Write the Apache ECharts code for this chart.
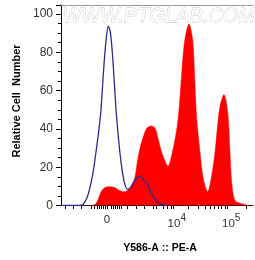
<!DOCTYPE html>
<html>
<head>
<meta charset="utf-8">
<script src="https://cdn.jsdelivr.net/npm/echarts@6/dist/echarts.min.js"></script>
<style>html,body{margin:0;padding:0;background:#fff}#c{width:255px;height:260px}</style>
</head>
<body>
<div id="c"></div>
<script>
// x values are display positions on the biexponential PE-A scale (0..192)
const stainedX = [0,29,34,37,40,44,49,54,58,63,67,71,74,77,80,83,86,90,94,97,100,103,107,111,115.5,118,120,122.5,125,128,131,132.5,134,135.7,139,142.3,146.7,150.7,154,157.3,159.5,163,165,167.3,169,170.7,174,180.7,186,192];
const stainedY = [0,0,0.5,3,7,9.4,9.8,9.3,8,7.2,8,11,15,25,32,37,40.5,41.5,40.5,35,29,24.5,20.5,27,39,50,64,81,90,94.8,89,81,63,45.4,28,14,7.3,15.7,28,45.4,53,58,55,45.4,28,12.2,2.6,0.9,0.2,0];
const controlX = [0,19,22,26,29,32,35,38,40,42.5,45,47.3,49.5,52,55,57.5,59.5,62,64.5,66.5,69,72,76,79,82,86,89,93,97,102,106];
const controlY = [0,0,0.5,4,9.5,17,28,40,50,70,86,93.7,90,75,50,35,25,15.5,10,8.4,9,11.5,14.5,15.3,13.5,11.5,8,4,1.5,0.3,0];
const xTickPos = [4.3,12,20.3,30,33,36,38,40,42,44,46,50,52,54,56,58,60,66.3,75.3,83.7,92,95.7,102.3,106.7,110,112.3,127.3,137.3,144,149,153.3,157.3,160.7,164,166.7,185.7];
const xLabelPos = [46, 112.3, 166.7];
const xLabelText = ['0', '10^4', '10^5'];
const yLabels = [0, 20, 40, 60, 80, 100];

const zip = (a, b) => a.map((v, i) => [v, b[i]]);
const chart = echarts.init(document.getElementById('c'), null, {renderer: 'canvas'});
const FONT = 'Liberation Sans, Arial, sans-serif';
chart.setOption({
  animation: false,
  grid: {left: 61, right: 2, top: 5, bottom: 54.5},
  xAxis: [{
    type: 'value', min: 0, max: 192, position: 'bottom',
    axisLine: {show: true, lineStyle: {color: '#000', width: 1}},
    splitLine: {show: false},
    axisTick: {show: true, customValues: xTickPos, length: 3.5, lineStyle: {color: '#000'}},
    axisLabel: {
      customValues: xLabelPos, margin: 8, color: '#333', fontFamily: FONT, fontSize: 11.5,
      formatter: function (v) {
        let idx = -1;
        xLabelPos.forEach((p, i) => { if (Math.abs(p - v) < 0.01) idx = i; });
        if (idx < 0) return '';
        const t = xLabelText[idx];
        if (t.indexOf('^') < 0) return t;
        const parts = t.split('^');
        return '{b|' + parts[0] + '}{s|' + parts[1] + '}';
      },
      rich: {
        b: {fontSize: 11.5, fontFamily: FONT, color: '#333', verticalAlign: 'bottom', padding: [0, 0, 0, 7]},
        s: {fontSize: 10, fontFamily: FONT, color: '#333', verticalAlign: 'bottom', padding: [0, 0, 6, 0]}
      }
    }
  }, {
    type: 'value', min: 0, max: 192, position: 'top',
    axisLine: {show: true, lineStyle: {color: '#999', width: 1}},
    axisTick: {show: false}, axisLabel: {show: false}, splitLine: {show: false}
  }],
  yAxis: {
    type: 'value', min: 0, max: 104.7, interval: 20,
    axisLine: {show: true, lineStyle: {color: '#000', width: 1}},
    splitLine: {show: false},
    axisTick: {show: true, length: 5, lineStyle: {color: '#000'}},
    minorTick: {show: true, splitNumber: 4, length: 3, lineStyle: {color: '#000'}},
    axisLabel: {
      margin: 8, color: '#333', fontFamily: FONT, fontSize: 12,
      formatter: v => (yLabels.indexOf(v) >= 0 ? String(v) : '')
    }
  },
  series: [{
    type: 'line', data: zip(stainedX, stainedY), showSymbol: false, smooth: 0.3,
    lineStyle: {width: 0.5, color: '#ff0000'}, areaStyle: {color: '#ff0000', opacity: 1}, z: 2
  }, {
    type: 'line', data: zip(controlX, controlY), showSymbol: false, smooth: 0.3,
    lineStyle: {width: 1.3, color: '#2a2a92'}, z: 3
  }],
  graphic: [{
    type: 'text', left: 62, top: 6, z: 10,
    style: {text: 'WWW.PTGLAB.COM', font: 'italic 20px ' + FONT, fill: '#fff', stroke: '#c4c4c4', lineWidth: 0.8}
  }, {
    type: 'text', x: 17, y: 101, rotation: Math.PI / 2, z: 10,
    style: {text: 'Relative Cell  Number', font: 'bold 11px ' + FONT, fill: '#000', align: 'center', verticalAlign: 'middle'}
  }, {
    type: 'text', x: 160, y: 248, z: 10,
    style: {text: 'Y586-A :: PE-A', font: 'bold 10.5px ' + FONT, fill: '#000', align: 'center', verticalAlign: 'middle'}
  }]
});
</script>
</body>
</html>
